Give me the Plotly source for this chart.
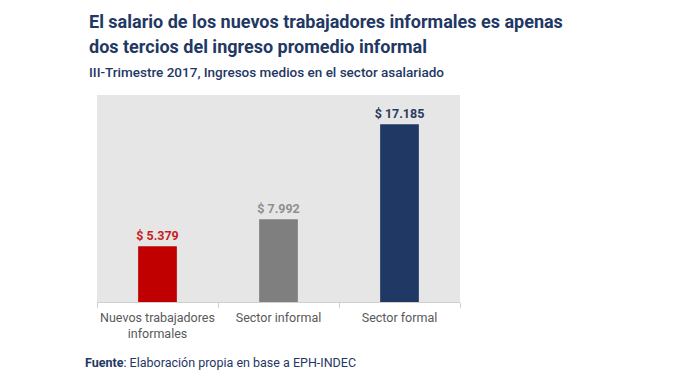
import plotly.graph_objects as go

categories = ["Nuevos trabajadores<br>informales", "Sector informal", "Sector formal"]
values = [5379, 7992, 17185]
bar_colors = ["#c00000", "#7f7f7f", "#1f3864"]
label_colors = ["#c81e1e", "#8f8f8f", "#2a3a60"]

title_lines = [
    "El salario de los nuevos trabajadores informales es apenas",
    "dos tercios del ingreso promedio informal",
]
subtitle = "III-Trimestre 2017, Ingresos medios en el sector asalariado"
source = "<b>Fuente</b>: Elaboración propia en base a EPH-INDEC"

PLOT_BOTTOM, PLOT_H, PLOT_LEFT, PLOT_W = 302, 207, 97, 363


def py(pix):
    return (PLOT_BOTTOM - pix) / PLOT_H


def px(pix):
    return (pix - PLOT_LEFT) / PLOT_W


# page offset of 8px (body margin) compensated in size/margins
fig = go.Figure()
fig.add_trace(go.Bar(
    x=categories, y=values,
    marker=dict(color=bar_colors, line=dict(width=0)),
    width=0.32,
    texttemplate="$ %{y:,.0f}",
    textposition="outside",
    constraintext="none",
    textfont=dict(family="Roboto", size=12.5, color=label_colors, weight="bold"),
    cliponaxis=False,
    hoverinfo="skip",
))

fig.update_layout(
    width=672, height=376,
    separators=",.",
    paper_bgcolor="white",
    plot_bgcolor="#e7e6e6",
    margin=dict(l=89, r=220, t=87, b=82),
    showlegend=False,
    font=dict(family="Roboto", color="#595959"),
    xaxis=dict(
        showgrid=False, showline=True, linecolor="#d0d0d0", linewidth=1,
        ticks="outside", tickson="boundaries", ticklen=5, tickcolor="#d0d0d0",
        tickfont=dict(size=12.5, color="#595959"),
        tickangle=0, automargin=False,
        ticklabelstandoff=4,
    ),
    yaxis=dict(range=[0, 20000], visible=False, showgrid=False, automargin=False),
)

for line, ypix in zip(title_lines, [21, 46]):
    fig.add_annotation(
        text=f"<b>{line}</b>",
        xref="paper", yref="paper", x=px(87), y=py(ypix), xanchor="left", yanchor="middle",
        align="left", showarrow=False,
        font=dict(family="Roboto", size=18, color="#1f3864"),
    )
fig.add_annotation(
    text=subtitle,
    xref="paper", yref="paper", x=px(87), y=py(72), xanchor="left", yanchor="middle",
    align="left", showarrow=False,
    font=dict(family="Roboto", size=13.5, color="#1f3864", weight=500),
)
fig.add_annotation(
    text=source,
    xref="paper", yref="paper", x=px(83), y=py(362), xanchor="left", yanchor="middle",
    align="left", showarrow=False,
    font=dict(family="Roboto", size=12.5, color="#1f3864"),
)

fig.write_html("out.html")
